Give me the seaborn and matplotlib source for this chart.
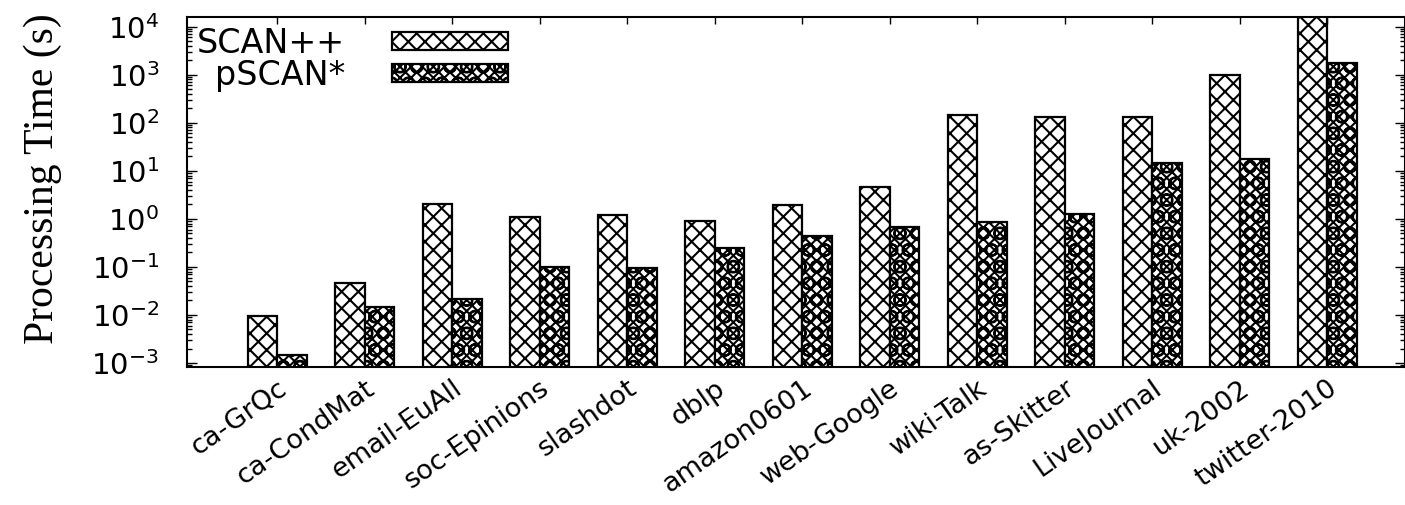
import numpy as np
import pandas as pd
import matplotlib
matplotlib.use("Agg")
import matplotlib.pyplot as plt
import matplotlib.patches as mpatches
import seaborn as sns
from matplotlib.ticker import LogLocator, LogFormatterSciNotation, NullFormatter

# data
datasets = ["ca-GrQc", "ca-CondMat", "email-EuAll", "soc-Epinions", "slashdot", "dblp",
            "amazon0601", "web-Google", "wiki-Talk", "as-Skitter", "LiveJournal",
            "uk-2002", "twitter-2010"]
scan_pp = [0.0095, 0.046, 2.0, 1.12, 1.21, 0.92, 1.96, 4.7, 147, 135, 135, 1000, 20000]
pscan_star = [0.0015, 0.0145, 0.022, 0.10, 0.094, 0.245, 0.43, 0.69, 0.88, 1.25, 14.8, 17.4, 1740]
algos = ["SCAN++", "pSCAN*"]
hatches = ["xx", "xxxO"]

df = pd.DataFrame({
    "dataset": datasets * 2,
    "algo": [algos[0]] * len(datasets) + [algos[1]] * len(datasets),
    "time": scan_pp + pscan_star,
})

sns.set_theme(style="ticks")
plt.rcParams["font.family"] = ["DejaVu Sans"]
plt.rcParams["mathtext.fontset"] = "dejavusans"
plt.rcParams["hatch.linewidth"] = 1.5
plt.rcParams["hatch.color"] = "black"
for k in ["text.color", "axes.labelcolor", "xtick.color", "ytick.color", "axes.edgecolor"]:
    plt.rcParams[k] = "black"

fig = plt.figure(figsize=(14.05, 5.05), dpi=100)
ax = fig.add_axes([0.1331, 0.2733, 0.8669, 0.6924])
ax.set_yscale("log")

sns.barplot(data=df, x="dataset", y="time", hue="algo", hue_order=algos,
            palette=["white", "white"], width=0.675, gap=0, errorbar=None,
            edgecolor="black", linewidth=1.6, legend=False, ax=ax)

for cont, h in zip(ax.containers, hatches):
    for bar in cont:
        bar.set_hatch(h)

ax.set_ylim(10 ** -3.083, 10 ** 4.196)
ax.set_xlim(-1.03, 12.89)

ax.yaxis.set_major_locator(LogLocator(base=10, numticks=20))
ax.yaxis.set_minor_locator(LogLocator(base=10, subs=np.arange(2, 10), numticks=20))
ax.yaxis.set_major_formatter(LogFormatterSciNotation())
ax.yaxis.set_minor_formatter(NullFormatter())

ax.tick_params(axis="y", which="both", direction="in", left=True, right=True, width=1)
ax.tick_params(axis="y", which="major", length=7, labelsize=21, pad=20)
ax.tick_params(axis="y", which="minor", length=3.5)
ax.tick_params(axis="x", direction="in", top=True, bottom=True, length=5, width=1,
               labelsize=19.5, pad=6)
plt.setp(ax.get_xticklabels(), rotation=35, ha="right", va="top", rotation_mode="anchor")

for s in ax.spines.values():
    s.set_linewidth(1.5)

ax.set_xlabel("")
ax.set_ylabel("Processing Time (s)", fontsize=30, family=["Liberation Serif"])
ax.yaxis.set_label_coords(-0.103, 0.54)

handles = [mpatches.Patch(facecolor="white", edgecolor="black", linewidth=1.6, hatch=h, label=a)
           for a, h in zip(algos, hatches)]
ax.legend(handles=handles, loc="upper left", bbox_to_anchor=(0.0, 1.0), frameon=False,
          markerfirst=False, fontsize=24, handlelength=3.5, handleheight=0.45,
          labelspacing=-0.05, handletextpad=1.4, borderaxespad=0.2, borderpad=0.1)

fig.savefig("out.png", dpi=100)
